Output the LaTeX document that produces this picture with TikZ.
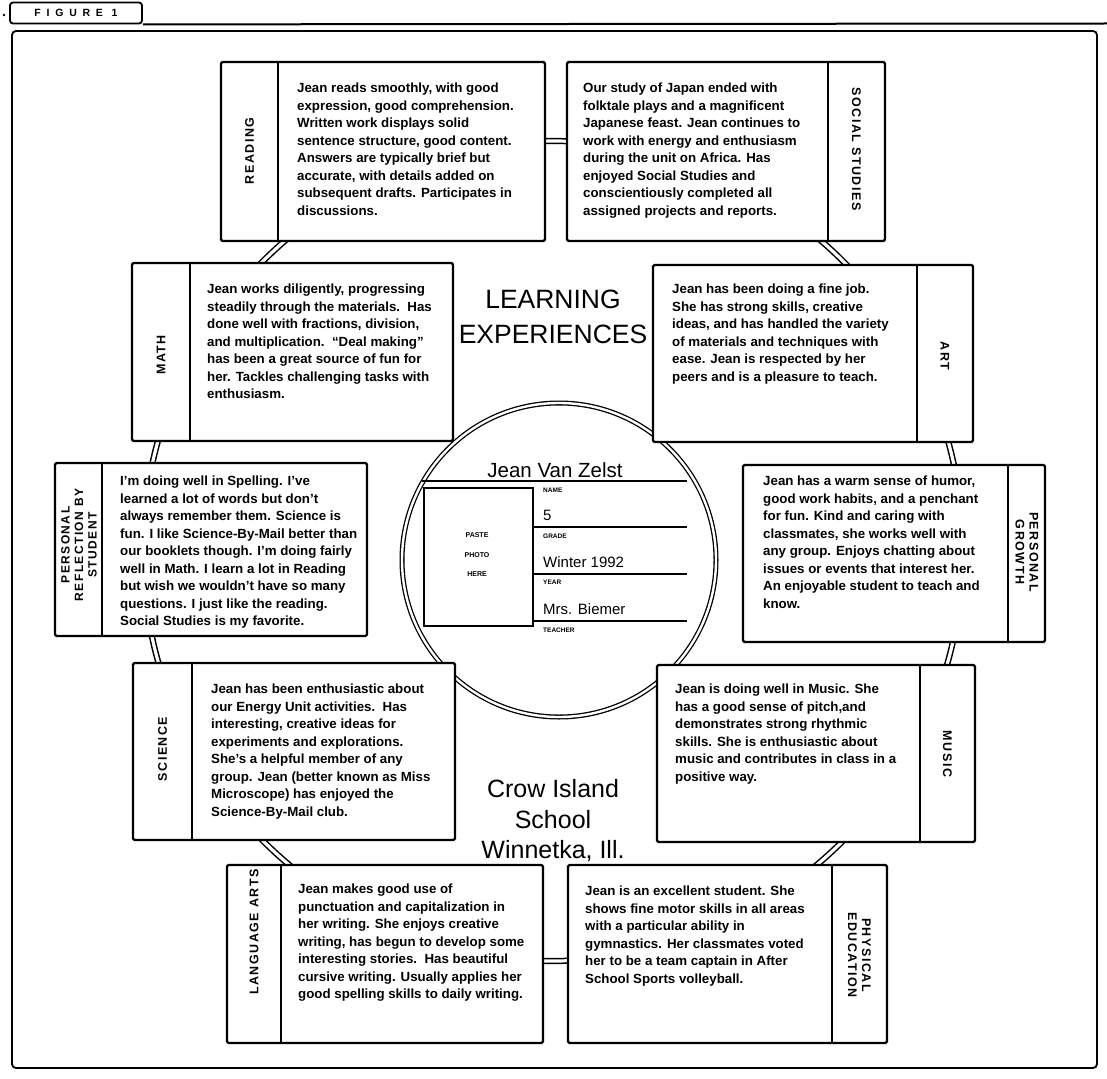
\documentclass[tikz,border=0pt]{standalone}
\usepackage{fontspec}
\setmainfont{Liberation Sans}
\begin{document}
\begin{tikzpicture}[x=1pt,y=-1pt,
  card/.style={draw, line width=2.4pt, fill=white, rounded corners=1.5pt, inner sep=0pt, outer sep=0pt, anchor=north west},
  divline/.style={line width=1.6pt},
  body/.style={inner sep=0pt, anchor=north west, align=left, font=\bfseries\fontsize{13.3}{17.5}\selectfont},
  lab/.style={inner sep=0pt, align=center, font=\bfseries\fontsize{12.5}{14}\selectfont\addfontfeature{LetterSpace=12}},
  ring/.style={draw, double=white, double distance=3.2pt, line width=1.5pt},
  smallring/.style={draw, double=white, double distance=2.4pt, line width=1.3pt},
  big/.style={inner sep=0pt, align=center, font=\fontsize{26.5}{35}\selectfont},
  tiny/.style={inner sep=0pt, anchor=west, font=\bfseries\fontsize{6.5}{7}\selectfont},
  field/.style={inner sep=0pt, anchor=west, font=\fontsize{15}{17}\selectfont},
  tab/.style={draw, line width=1.8pt, rounded corners=3pt, inner sep=0pt, minimum width=132, minimum height=21,
    font=\bfseries\fontsize{10.5}{11}\selectfont\addfontfeature{LetterSpace=55}},
]
\useasboundingbox (0,0) rectangle (1107,1078);
\fill[white] (0,0) rectangle (1107,1078);

% header and frame
\fill (4,15) circle[radius=1.3];
\node[tab] (fig) at (76,13) {FIGURE 1};
\coordinate (ruleend) at (1107,23.5);
\draw[line width=2pt] (fig.south east) -- (ruleend);
\draw[line width=1.8pt, rounded corners=4pt] (12,31) rectangle (1097,1068);

% rings
\draw[ring] (553,551) circle[radius=410];
\draw[smallring] (559,560) circle[radius=157];

% cards
\node[card, minimum width=324, minimum height=179] (read) at (221,62) {};
\draw[divline] (278,62) -- (278,241);
\node[lab, rotate=90] (readlab) at (249.5,151) {READING};
\node[body] (readtxt) at (297,83) {Jean reads smoothly, with good\\expression, good comprehension.\\Written work displays solid\\sentence structure, good content.\\Answers are typically brief but\\accurate, with details added on\\subsequent drafts. Participates in\\discussions.};

\node[card, minimum width=318, minimum height=179] (soc) at (567,62) {};
\draw[divline] (828,62) -- (828,241);
\node[lab, rotate=-90] (soclab) at (856.5,149) {SOCIAL STUDIES};
\node[body] (soctxt) at (583,83) {Our study of Japan ended with\\folktale plays and a magnificent\\Japanese feast. Jean continues to\\work with energy and enthusiasm\\during the unit on Africa. Has\\enjoyed Social Studies and\\conscientiously completed all\\assigned projects and reports.};

\node[card, minimum width=321, minimum height=178] (math) at (132,263) {};
\draw[divline] (190,263) -- (190,441);
\node[lab, rotate=90] (mathlab) at (161,355) {MATH};
\node[body] (mathtxt) at (207,284) {Jean works diligently, progressing\\steadily through the materials.\ \ Has\\done well with fractions, division,\\and multiplication.\ \ “Deal making”\\has been a great source of fun for\\her. Tackles challenging tasks with\\enthusiasm.};

\node[card, minimum width=320, minimum height=177] (art) at (653,265) {};
\draw[divline] (917,265) -- (917,442);
\node[lab, rotate=-90] (artlab) at (945,356) {ART};
\node[body] (arttxt) at (672,284) {Jean has been doing a fine job.\\She has strong skills, creative\\ideas, and has handled the variety\\of materials and techniques with\\ease. Jean is respected by her\\peers and is a pleasure to teach.};

\node[card, minimum width=312, minimum height=173] (refl) at (55,463) {};
\draw[divline] (102,463) -- (102,636);
\node[lab, rotate=90, font=\bfseries\fontsize{12}{13.5}\selectfont\addfontfeature{LetterSpace=12}] (refllab) at (79,545) {PERSONAL\\REFLECTION BY\\STUDENT};
\node[body] (refltxt) at (120,476) {I’m doing well in Spelling. I’ve\\learned a lot of words but don’t\\always remember them. Science is\\fun. I like Science-By-Mail better than\\our booklets though. I’m doing fairly\\well in Math. I learn a lot in Reading\\but wish we wouldn’t have so many\\questions. I just like the reading.\\Social Studies is my favorite.};

\node[card, minimum width=302, minimum height=177] (grow) at (743,465) {};
\draw[divline] (1008,465) -- (1008,642);
\node[lab, rotate=-90] (growlab) at (1027,552) {PERSONAL\\GROWTH};
\node[body] (growtxt) at (763,476) {Jean has a warm sense of humor,\\good work habits, and a penchant\\for fun. Kind and caring with\\classmates, she works well with\\any group. Enjoys chatting about\\issues or events that interest her.\\An enjoyable student to teach and\\know.};

\node[card, minimum width=322, minimum height=177] (sci) at (133,663) {};
\draw[divline] (192,663) -- (192,840);
\node[lab, rotate=90] (scilab) at (162.5,749) {SCIENCE};
\node[body] (scitxt) at (211,684) {Jean has been enthusiastic about\\our Energy Unit activities.\ \ Has\\interesting, creative ideas for\\experiments and explorations.\\She’s a helpful member of any\\group. Jean (better known as Miss\\Microscope) has enjoyed the\\Science-By-Mail club.};

\node[card, minimum width=318, minimum height=177] (mus) at (657,665) {};
\draw[divline] (920,665) -- (920,842);
\node[lab, rotate=-90] (muslab) at (947.5,754) {MUSIC};
\node[body] (mustxt) at (675,684) {Jean is doing well in Music. She\\has a good sense of pitch,and\\demonstrates strong rhythmic\\skills. She is enthusiastic about\\music and contributes in class in a\\positive way.};

\node[card, minimum width=316, minimum height=178] (lang) at (227,865) {};
\draw[divline] (281,865) -- (281,1043);
\node[lab, rotate=90] (langlab) at (254,932) {LANGUAGE ARTS};
\node[body] (langtxt) at (298,884) {Jean makes good use of\\punctuation and capitalization in\\her writing. She enjoys creative\\writing, has begun to develop some\\interesting stories.\ \ Has beautiful\\cursive writing. Usually applies her\\good spelling skills to daily writing.};

\node[card, minimum width=319, minimum height=178] (phys) at (568,865) {};
\draw[divline] (832,865) -- (832,1043);
\node[lab, rotate=-90] (physlab) at (859.5,955) {PHYSICAL\\EDUCATION};
\node[body] (phystxt) at (585,886) {Jean is an excellent student. She\\shows fine motor skills in all areas\\with a particular ability in\\gymnastics. Her classmates voted\\her to be a team captain in After\\School Sports volleyball.};

% centre titles
\node[big] (title) at (553,317) {LEARNING\\EXPERIENCES};
\node[big, font=\fontsize{25}{30.5}\selectfont] (school) at (553,821) {Crow Island\\School\\Winnetka, Ill.};

% id card inside circle
\node[inner sep=0pt, font=\fontsize{20.5}{22}\selectfont] (name) at (555,470) {Jean Van Zelst};
\coordinate (nl1) at (422,481); \coordinate (nl2) at (687,481);
\draw[line width=1.5pt] (nl1) -- (nl2);
\node[draw, line width=1.5pt, inner sep=0pt, minimum width=109, minimum height=138, anchor=north west] (photo) at (423,487) {};
\node[inner sep=0pt, align=center, font=\bfseries\fontsize{7}{19.5}\selectfont] (phototxt) at (477,555) {PASTE\\PHOTO\\HERE};
\coordinate (g2) at (687,527); \coordinate (y2) at (687,574); \coordinate (t2) at (687,621);
\draw[line width=1.5pt] (photo.east |- g2) -- (g2);
\draw[line width=1.5pt] (photo.east |- y2) -- (y2);
\draw[line width=1.5pt] (photo.east |- t2) -- (t2);
\node[tiny] (lname) at (543,490) {NAME};
\node[field] (vgrade) at (543,515) {5};
\node[tiny] (lgrade) at (543,536) {GRADE};
\node[field] (vyear) at (543,562) {Winter 1992};
\node[tiny] (lyear) at (543,582) {YEAR};
\node[field] (vteach) at (543,609) {Mrs. Biemer};
\node[tiny] (lteach) at (543,630) {TEACHER};
\end{tikzpicture}
\end{document}
